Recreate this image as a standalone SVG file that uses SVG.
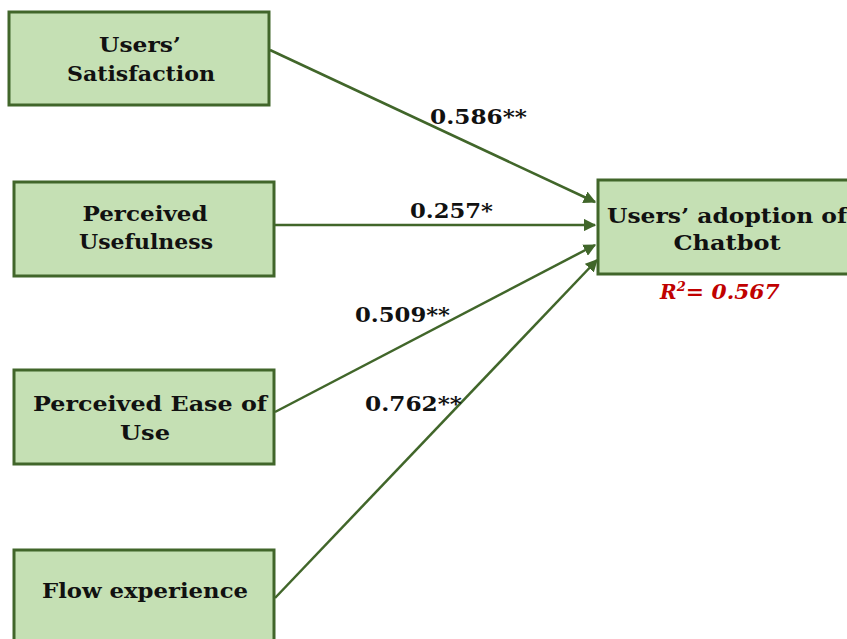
<svg xmlns="http://www.w3.org/2000/svg" width="847" height="639" viewBox="0 0 847 639">
<defs>
<style>
.box{fill:#c5e0b4;stroke:#41662a;stroke-width:3}
.t{font-family:"DejaVu Serif",serif;font-weight:bold;font-size:20px;fill:#111;text-anchor:middle}
.lbl{font-family:"DejaVu Serif",serif;font-weight:bold;font-size:20px;fill:#111}
.ln{stroke:#41662a;stroke-width:2.5;fill:none;marker-end:url(#ah)}
</style>
<marker id="ah" viewBox="0 0 10 10" refX="9" refY="5" markerWidth="5" markerHeight="5" orient="auto" markerUnits="strokeWidth">
<path d="M0,0 L10,5 L0,10 z" fill="#41662a"/>
</marker>
</defs>
<rect width="847" height="639" fill="#fff"/>
<g id="connectors">
<line class="ln" x1="270" y1="50" x2="595" y2="202"/>
<line class="ln" x1="275" y1="225" x2="595" y2="225"/>
<line class="ln" x1="275" y1="412" x2="595" y2="245"/>
<line class="ln" x1="275" y1="598" x2="597" y2="260"/>
<text class="lbl" x="430" y="124" textLength="97" lengthAdjust="spacingAndGlyphs">0.586**</text>
<text class="lbl" x="410" y="218" textLength="83" lengthAdjust="spacingAndGlyphs">0.257*</text>
<text class="lbl" x="355" y="322" textLength="95" lengthAdjust="spacingAndGlyphs">0.509**</text>
<text class="lbl" x="365" y="411" textLength="97" lengthAdjust="spacingAndGlyphs">0.762**</text>
</g>
<g id="n1">
<rect class="box" x="9" y="12" width="260" height="93"/>
<text class="t" x="140" y="52" textLength="82" lengthAdjust="spacingAndGlyphs">Users’</text>
<text class="t" x="141" y="81" textLength="148" lengthAdjust="spacingAndGlyphs">Satisfaction</text>
</g>
<g id="n2">
<rect class="box" x="14" y="182" width="260" height="94"/>
<text class="t" x="145" y="221" textLength="125" lengthAdjust="spacingAndGlyphs">Perceived</text>
<text class="t" x="146" y="249" textLength="134" lengthAdjust="spacingAndGlyphs">Usefulness</text>
</g>
<g id="n3">
<rect class="box" x="14" y="370" width="260" height="94"/>
<text class="t" x="150" y="411" textLength="234" lengthAdjust="spacingAndGlyphs">Perceived Ease of</text>
<text class="t" x="145" y="440" textLength="50" lengthAdjust="spacingAndGlyphs">Use</text>
</g>
<g id="n4">
<rect class="box" x="14" y="550" width="260" height="100"/>
<text class="t" x="145" y="598" textLength="206" lengthAdjust="spacingAndGlyphs">Flow experience</text>
</g>
<g id="n5">
<rect class="box" x="598" y="180" width="260" height="94"/>
<text class="t" x="727" y="223" textLength="240" lengthAdjust="spacingAndGlyphs">Users’ adoption of</text>
<text class="t" x="727" y="250" textLength="107" lengthAdjust="spacingAndGlyphs">Chatbot</text>
<text x="660" y="299" font-family="DejaVu Serif,serif" font-weight="bold" font-style="italic" font-size="20" fill="#c00000">R<tspan font-size="13" dy="-8">2</tspan><tspan dy="8" textLength="94" lengthAdjust="spacingAndGlyphs">= 0.567</tspan></text>
</g>
</svg>
